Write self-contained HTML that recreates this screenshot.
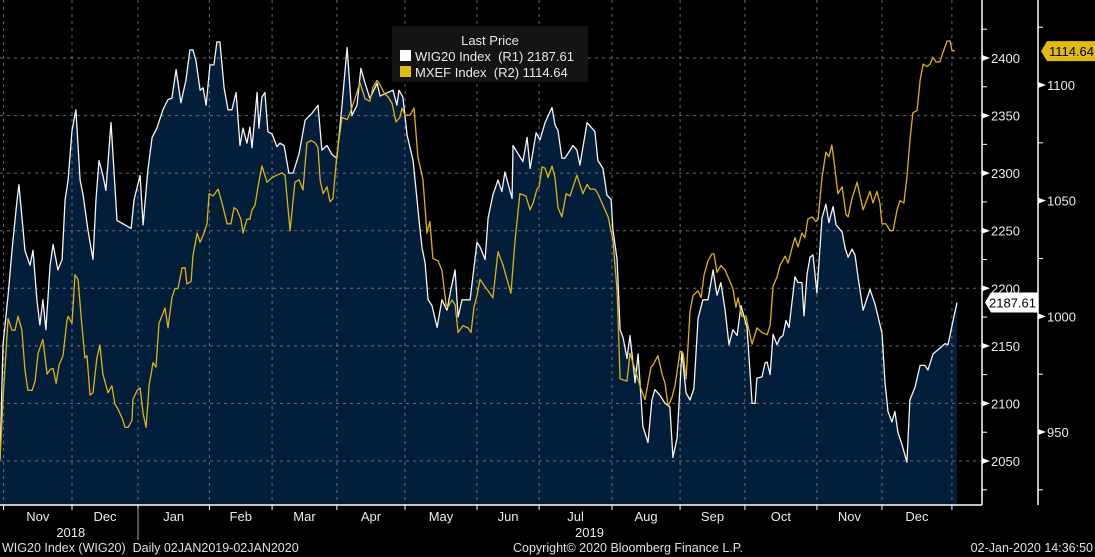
<!DOCTYPE html>
<html><head><meta charset="utf-8"><style>
html,body{margin:0;padding:0;background:#000;}
svg{display:block;font-family:"Liberation Sans",sans-serif;}
</style></head><body>
<svg id="chart" width="1095" height="557" viewBox="0 0 1095 557">
<rect x="0" y="0" width="1095" height="557" fill="#000"/>
<g id="grid"></g>
<g id="series"></g>
<g id="axes"></g>
<g id="legend">
  <rect x="392" y="26" width="196" height="56" fill="#141414"/>
  <text x="490" y="45" fill="#e8e8e8" font-size="13" text-anchor="middle">Last Price</text>
  <rect x="400" y="50" width="11" height="11" fill="#fff"/>
  <text x="415" y="61" fill="#e8e8e8" font-size="13" xml:space="preserve">WIG20 Index  (R1) 2187.61</text>
  <rect x="400" y="66" width="11" height="11" fill="#e0bb16"/>
  <text x="415" y="77" fill="#e8e8e8" font-size="13" xml:space="preserve">MXEF Index  (R2) 1114.64</text>
</g>
<g>
  <text x="2" y="552" fill="#e0e0e0" font-size="12.5" xml:space="preserve">WIG20 Index (WIG20)  Daily 02JAN2019-02JAN2020</text>
  <text x="513" y="552" fill="#e0e0e0" font-size="12.5">Copyright© 2020 Bloomberg Finance L.P.</text>
  <text x="1093" y="552" fill="#e0e0e0" font-size="12.5" text-anchor="end">02-Jan-2020 14:36:50</text>
</g>
</svg>
<script>
const wigSessions=[0,1,2.7,4,5.7,6.3,7.7,8.3,10,11,12.3,13.3,14.3,15.3,16.7,17.7,19.3,20.7,21.7,22.7,24,25.3,26.7,27.7,29.3,31,32,33,34.3,35.3,37,39,41.7,43.7,44.7,46.7,47.7,49.3,50.7,52.3,54.3,56,57.3,58.7,60.3,62,63.3,64.3,65.3,66.7,67.7,68.7,70,71.3,72.3,73.3,74.7,76,77.3,78.7,80,81,82.3,83.3,84,85,85.7,86.3,87.3,88.3,89.3,90.7,92.3,93.3,94.7,96.3,97.7,99.7,101.7,104,106,107.3,109,110.7,112.3,114,115.7,117.3,119,120.3,121.7,123.3,125.7,126.7,131,132.3,133,134.3,135.7,137.7,140,140.7,141.7,142.7,144,145.7,147.3,149,150.3,151.7,152.7,154,156.7,159,160,161.7,162.7,164.3,166,167.3,168.3,170.7,171,174.3,175.7,176.7,178.7,180,181.7,184,185,186,187.3,188.3,189.3,191,192.3,193.3,195.7,198.3,199.3,201,202.3,203.7,204.3,205.7,206.7,207.7,209,210,211.7,212.7,214.3,216,217.3,218.3,220,221.7,223.3,224.3,225.7,227.3,228.7,230,231.3,232.7,234.3,236,237.7,239,240.3,241.7,243,244.3,245.7,247,249,250.7,251.7,252.3,254,255,255.7,256.7,257.7,259,260,261,262,263,265,266,267.3,268,269,270,271,272.3,274,275.3,276.3,277.7,278.7,280.7,281.7,282.7,284,285,286,287.7,290,291.7,294,295,296,297.3,298.3,299.3,300.7,302.3,303.3,305,306.7,308.3,309.3,311,313.3,315,316,317.7,319];
const wigValues=[2051,2151,2194,2233,2277,2290,2251,2233,2220,2233,2190,2168,2190,2164,2220,2238,2216,2225,2277,2294,2337,2355,2294,2281,2251,2225,2277,2311,2298,2285,2344,2259,2255,2252,2277,2298,2255,2303,2331,2339,2355,2364,2365,2390,2361,2381,2407,2407,2398,2372,2374,2359,2394,2394,2414,2414,2374,2355,2355,2370,2324,2339,2326,2340,2322,2350,2370,2339,2366,2370,2336,2334,2323,2326,2324,2300,2300,2317,2346,2352,2359,2320,2324,2316,2313,2359,2409,2350,2359,2391,2378,2365,2378,2367,2372,2359,2372,2366,2333,2311,2251,2235,2222,2190,2185,2166,2190,2181,2199,2216,2175,2190,2190,2240,2236,2225,2261,2281,2294,2284,2301,2278,2324,2310,2331,2304,2335,2329,2344,2357,2342,2337,2313,2313,2317,2324,2320,2307,2344,2336,2311,2304,2281,2277,2251,2225,2164,2157,2139,2159,2118,2143,2080,2066,2103,2112,2107,2100,2097,2053,2070,2145,2109,2103,2113,2174,2190,2190,2216,2194,2205,2181,2151,2164,2159,2185,2166,2100,2100,2122,2123,2135,2136,2125,2160,2151,2157,2159,2172,2166,2210,2205,2205,2176,2212,2227,2229,2196,2261,2273,2257,2271,2255,2249,2235,2227,2234,2229,2210,2181,2199,2186,2161,2118,2093,2084,2093,2075,2064,2049,2103,2114,2133,2133,2129,2143,2148,2152,2151,2172,2187.61];
const mxefSessions=[0,1,2.7,4,5,6,7.3,8.3,9.3,10.7,11.7,12.7,14,14.3,15.7,16.7,17.7,18.7,19.7,21,22.3,22.7,24,25,26,27.3,28.3,29,30,31,32.3,33.3,34.3,36,37.3,38.3,39.3,40.7,41.7,42.7,44,44.3,45.7,46.7,47.7,48.7,49.7,51,52,53,55,56,57.3,58.3,59.3,60.7,61.7,62.3,63.7,64.3,65.7,66.7,67.7,69,69.7,71,72.7,74,75.7,77,78,79,80.3,81,82.3,83.3,84,85,86,87.3,89,90.7,92.3,94,95,96.7,98.3,99.7,101,102.3,103.7,105,106,106.7,107.7,109,110,111,112.3,114,115.7,116.7,118.3,120,121.7,123.3,124.3,125.7,126.7,128.3,129.3,130.7,132,133.3,134,135,136.7,138,139.3,141,142.3,143.3,144.3,146,147.3,148.7,149.3,150.7,151.7,152.7,154.3,156,157,158,159,160,161,162.7,164.3,166,167.7,169,170.3,171.7,173.3,175.3,176.7,177.7,179,179.7,180.7,181.7,182.7,184,185,186,187.3,188.7,190,192.3,194.3,195.7,196.7,198.3,199.3,201,202.7,204.3,205.7,206.7,209,210,211.7,213.3,215,217,217.7,219.3,220.7,221.7,222.7,224,225,226.7,227.7,228.7,230,231,232.7,233.7,234.7,236,237.3,238,239,240.3,241.7,243,244.3,245.3,246,247.3,248.7,249.3,250.7,252.3,254,255.7,256.7,257.7,259,260,261.7,262.7,264.3,265,266,267.3,268.3,269.3,270.7,272,272.7,274,275.3,276.3,277.3,278.3,279.3,280.7,282,282.7,284,285.7,286.7,287.7,290,291,292.3,293.3,294,295.3,296.7,297.7,299,300,301.3,302.3,303.3,304.3,305.7,306.7,307.7,309,310,311,312,313.3,314.3,315.7,316.7,317.3,318.3];
const mxefValues=[938,964,999,994,994,1000,994,977,968,968,972,984,989,990,975,977,977.5,971,979,983,998,1000,997,1018,1016,996,982,983,966,967,982,987.6,975,967,970,962,960,956,952,952,955,964,968,969,958,952,970,980,978,997,1003.6,995,1008,1012,1012,1021,1021,1014,1015,1026,1036,1032,1035,1040,1053,1052,1055,1049,1040,1040,1047,1046,1042,1036,1042,1042,1046,1048,1056,1065,1058,1060,1061,1062,1061,1037,1058,1059,1054.6,1075,1076,1075,1073,1059,1053,1056,1049.5,1051,1070,1086,1085,1088,1094,1101,1094,1093,1099,1102,1100,1096,1095,1092,1084,1086,1090,1087,1087,1090,1069,1059,1036,1041,1025,1024,1020,1005,1004,1007,1005,993,996,995,993,1004,1009,1016,1014,1011,1008,1028,1022,1016,1010,1033,1053,1052,1046,1049,1055,1056,1064.6,1064,1060,1065,1060,1047,1043,1053,1052,1061,1053,1057,1055,1055,1053,1048,1043,1033,1011,973,972,984,977,970,964,978,979,983,975,971,961,965,970,985,984,973,1002,1009,1011,1008,1018,1024,1027,1027,1019,1022,1020,1016,1012,1004,1008,1000,1000,996,988,995,993,992,996,1013,1017,1022,1026,1023,1031,1034,1030,1036,1034,1042,1043,1041,1042,1060,1071,1069,1074,1064,1053,1056,1044,1043,1051,1058,1052,1046,1054,1049,1054,1049,1040,1040,1037,1037,1046,1050,1049,1060,1076,1088,1089,1102,1109,1108,1109,1112,1110,1110,1114,1119,1119,1115,1114.64];
const wigTicks=[2050,2100,2150,2200,2250,2300,2350,2400];
const mxefTicks=[950,1000,1050,1100];
const monthLabels=["Nov","Dec","Jan","Feb","Mar","Apr","May","Jun","Jul","Aug","Sep","Oct","Nov","Dec"];
const monthStarts=[1.2,24,46,69.8,90.7,112.3,135,159,179.7,204,226.7,248.3,272.3,294,317.3];
const yearLabels=["2018","2019"];
const lastWig=2187.61, lastMxef=1114.64;

const NS="http://www.w3.org/2000/svg";
const PLOT_R=981, PLOT_B=505;
const xS=s=>s*3;
const yW=v=>58+(2400-v)*(403/350);
const yM=v=>85+(1100-v)*(347/150);
function mk(tag,attrs,parent){const e=document.createElementNS(NS,tag);for(const k in attrs)e.setAttribute(k,attrs[k]);parent.appendChild(e);return e;}
const grid=document.getElementById('grid'),series=document.getElementById('series'),axes=document.getElementById('axes');

// series
let d="M"+xS(wigSessions[0])+","+PLOT_B;
wigSessions.forEach((s,i)=>{d+=" L"+xS(s).toFixed(1)+","+yW(wigValues[i]).toFixed(1);});
d+=" L"+xS(wigSessions[wigSessions.length-1])+","+PLOT_B+" Z";
const area=mk('path',{d:d,fill:"#031e3b"},series);



// grid
wigTicks.forEach(t=>{const l=mk('line',{x1:0,x2:PLOT_R,y1:yW(t),y2:yW(t),stroke:"#8a8a8a","stroke-width":1,"stroke-dasharray":"3,4",opacity:0.75},grid);

});
monthStarts.forEach(s=>{const l=mk('line',{x1:xS(s),x2:xS(s),y1:0,y2:PLOT_B,stroke:"#8a8a8a","stroke-width":1,"stroke-dasharray":"3,4",opacity:0.75},grid);

});
series.parentNode.insertBefore(grid,series.nextSibling);

const wl=mk('polyline',{points:wigSessions.map((s,i)=>xS(s).toFixed(1)+","+yW(wigValues[i]).toFixed(1)).join(" "),fill:"none",stroke:"#f4f4f4","stroke-width":1.3,"stroke-linejoin":"round"},axes.parentNode.insertBefore(document.createElementNS(NS,'g'),axes));


const ml=mk('polyline',{points:mxefSessions.map((s,i)=>xS(s).toFixed(1)+","+yM(mxefValues[i]).toFixed(1)).join(" "),fill:"none",stroke:"#dcb312","stroke-width":1.3,"stroke-linejoin":"round"},wl.parentNode);



// axes lines
const xa=mk('line',{x1:0,x2:PLOT_R+1,y1:PLOT_B,y2:PLOT_B,stroke:"#fff","stroke-width":1.5},axes);


const r1=mk('line',{x1:982,x2:982,y1:0,y2:PLOT_B,stroke:"#fff","stroke-width":1.5},axes);


const r2=mk('line',{x1:1038,x2:1038,y1:0,y2:PLOT_B,stroke:"#fff","stroke-width":1.5},axes);



for(let v=2025;v<=2425;v+=50){const y=yW(v);if(y<0||y>PLOT_B)continue;const t=mk('line',{x1:982,x2:987,y1:y,y2:y,stroke:"#fff"},axes);

}
wigTicks.forEach(v=>{const y=yW(v);const p=mk('path',{d:`M982,${y-3} L990,${y} L982,${y+3}Z`,fill:"#fff"},axes);


const t=mk('text',{x:991,y:y+5,fill:"#eaeaea","font-size":13},axes);t.textContent=v;

});
for(let v=925;v<=1125;v+=50){const y=yM(v);if(y<0||y>PLOT_B)continue;const t=mk('line',{x1:1038,x2:1043,y1:y,y2:y,stroke:"#fff"},axes);

}
mxefTicks.forEach(v=>{const y=yM(v);const p=mk('path',{d:`M1038,${y-3} L1046,${y} L1038,${y+3}Z`,fill:"#fff"},axes);


const t=mk('text',{x:1047,y:y+5,fill:"#eaeaea","font-size":13},axes);t.textContent=v;

});

// last price tags
let y=yW(lastWig);
const wt=mk('path',{d:`M985,${y} L991,${y-10} L1038,${y-10} L1038,${y+10} L991,${y+10}Z`,fill:"#fff"},axes);


let tt=mk('text',{x:1036,y:y+5,fill:"#000","font-size":13,"text-anchor":"end"},axes);tt.textContent=lastWig.toFixed(2);


y=yM(lastMxef);
const mt=mk('path',{d:`M1041,${y} L1047,${y-10} L1095,${y-10} L1095,${y+10} L1047,${y+10}Z`,fill:"#e0bb16"},axes);


tt=mk('text',{x:1094,y:y+5,fill:"#000","font-size":13,"text-anchor":"end"},axes);tt.textContent=lastMxef.toFixed(2);



// x axis ticks + labels
monthStarts.forEach(s=>{const t=mk('line',{x1:xS(s),x2:xS(s),y1:PLOT_B,y2:PLOT_B+5,stroke:"#fff"},axes);

});
monthLabels.forEach((m,i)=>{const cx=(xS(monthStarts[i])+xS(monthStarts[i+1]))/2;
const t=mk('text',{x:cx,y:521,fill:"#eaeaea","font-size":13,"text-anchor":"middle"},axes);t.textContent=m;

});
const ysep=mk('line',{x1:xS(monthStarts[2]),x2:xS(monthStarts[2]),y1:508,y2:540,stroke:"#aaa"},axes);


[[ (xS(monthStarts[0])+xS(monthStarts[2]))/2, yearLabels[0]],[ (xS(monthStarts[2])+PLOT_R)/2+30, yearLabels[1]]].forEach(([x,lab])=>{
const t=mk('text',{x:x,y:537,fill:"#eaeaea","font-size":13,"text-anchor":"middle"},axes);t.textContent=lab;

});
</script>
</body></html>
